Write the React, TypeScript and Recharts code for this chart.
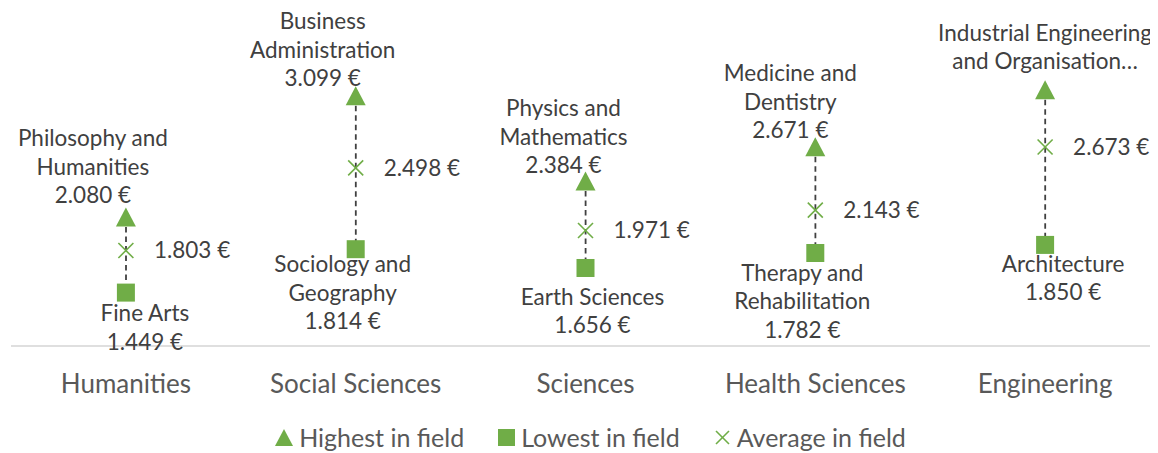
import { Bar, ComposedChart, LabelList, Legend, Line, XAxis, YAxis } from "recharts";

const fields = ["Humanities", "Social Sciences", "Sciences", "Health Sciences", "Engineering"];
const highest = [2080, 3099, 2384, 2671, 3150];
const lowest = [1449, 1814, 1656, 1782, 1850];
const average = [1803, 2498, 1971, 2143, 2673];
const highestNames = [
  ["Philosophy and", "Humanities"],
  ["Business", "Administration"],
  ["Physics and", "Mathematics"],
  ["Medicine and", "Dentistry"],
  ["Industrial Engineering", "and Organisation…"],
];
const lowestNames = [
  ["Fine Arts"],
  ["Sociology and", "Geography"],
  ["Earth Sciences"],
  ["Therapy and", "Rehabilitation"],
  ["Architecture"],
];
// the original label for engineering is cut off before its amount
const highestValueShown = [true, true, true, true, false];

// manual label nudges, as in the source chart: [dx, gap from marker]
const highNudge = [[-33, 22], [-33, 18], [-22, 16], [-25, 17], [0, 29]];
const lowNudge = [[19, 21], [-13, 15], [7, 29], [-13, 20], [18, 19]];

const GREEN = "#70AD47";
const TEXT = "#404040";
const MUTED = "#595959";
const FONT = "Lato, 'Open Sans', sans-serif";
const LINE_H = 28.5;

const data = fields.map((field, i) => ({
  field,
  high: highest[i],
  low: lowest[i],
  avg: average[i],
  range: [lowest[i], highest[i]],
}));

function euro(v: number) {
  return String(v).replace(/\B(?=(\d{3})+(?!\d))/g, ".") + " €";
}

function pos(props: any) {
  const vb = props.viewBox || {};
  return { x: Number(props.x ?? vb.x), y: Number(props.y ?? vb.y), i: Number(props.index) };
}

function HighLabel(props: any) {
  const { x, y, i } = pos(props);
  const lines = [...highestNames[i]];
  if (highestValueShown[i]) lines.push(euro(highest[i]));
  const [dx, gap] = highNudge[i];
  const n = lines.length;
  return (
    <g>
      {lines.map((t, k) => (
        <text
          key={k}
          x={x + dx}
          y={y - gap - (n - 1 - k) * LINE_H}
          dy="0.35em"
          textAnchor="middle"
          fill={TEXT}
          fontSize={22.5}
          fontFamily={FONT}
        >
          {t}
        </text>
      ))}
    </g>
  );
}

function LowLabel(props: any) {
  const { x, y, i } = pos(props);
  const lines = [...lowestNames[i], euro(lowest[i])];
  const [dx, gap] = lowNudge[i];
  return (
    <g>
      {lines.map((t, k) => (
        <text
          key={k}
          x={x + dx}
          y={y + gap + k * LINE_H}
          dy="0.35em"
          textAnchor="middle"
          fill={TEXT}
          fontSize={22.5}
          fontFamily={FONT}
        >
          {t}
        </text>
      ))}
    </g>
  );
}

function AvgLabel(props: any) {
  const { x, y, i } = pos(props);
  return (
    <text x={x + 28} y={y} dy="0.35em" fill={TEXT} fontSize={22.5} fontFamily={FONT}>
      {euro(average[i])}
    </text>
  );
}

function Triangle({ cx, cy }: any) {
  if (cx == null || cy == null) return null;
  return <path d={`M${cx},${cy - 10}L${cx + 10},${cy + 9}L${cx - 10},${cy + 9}Z`} fill={GREEN} />;
}

function Square({ cx, cy }: any) {
  if (cx == null || cy == null) return null;
  return <rect x={cx - 9} y={cy - 9} width={18} height={18} fill={GREEN} />;
}

function Cross({ cx, cy }: any) {
  if (cx == null || cy == null) return null;
  const s = 7.5;
  return (
    <g stroke={GREEN} strokeWidth={1.6}>
      <line x1={cx - s} y1={cy - s} x2={cx + s} y2={cy + s} />
      <line x1={cx - s} y1={cy + s} x2={cx + s} y2={cy - s} />
    </g>
  );
}

function DashedSpan({ x, y, width, height }: any) {
  const mx = x + width / 2;
  return (
    <line x1={mx} y1={y} x2={mx} y2={y + height} stroke="#404040" strokeWidth={1.8} strokeDasharray="5.5 4" />
  );
}

function LegendContent() {
  const items = [
    { name: "Highest in field", icon: <path d="M9,1L18,18L0,18Z" fill={GREEN} /> },
    { name: "Lowest in field", icon: <rect x={1} y={1} width={17} height={17} fill={GREEN} /> },
    {
      name: "Average in field",
      icon: (
        <g stroke={GREEN} strokeWidth={1.6}>
          <line x1={3} y1={3} x2={16} y2={16} />
          <line x1={3} y1={16} x2={16} y2={3} />
        </g>
      ),
    },
  ];
  return (
    <div style={{ display: "flex", justifyContent: "center", gap: 33, fontFamily: FONT, fontSize: 25, color: MUTED }}>
      {items.map((it) => (
        <div key={it.name} style={{ display: "flex", alignItems: "center", gap: 5 }}>
          <svg width={19} height={19}>{it.icon}</svg>
          <span>{it.name}</span>
        </div>
      ))}
    </div>
  );
}

function CategoryTick({ x, y, payload }: any) {
  return (
    <text x={x} y={y + 36} dy="0.35em" textAnchor="middle" fill={MUTED} fontSize={26} fontFamily={FONT}>
      {payload.value}
    </text>
  );
}

export default function App() {
  return (
    <div style={{ width: 1152, height: 445, background: "#fff" }}>
      <ComposedChart width={1152} height={445} data={data} margin={{ top: 5, right: 0, bottom: 47, left: 3 }}>
        <XAxis
          dataKey="field"
          axisLine={{ stroke: "#d4d4d4", strokeWidth: 1.5 }}
          tickLine={false}
          tickSize={0}
          height={60}
          tick={<CategoryTick />}
          interval={0}
        />
        <YAxis hide domain={[1000, 3800]} />
        <Legend
          verticalAlign="middle"
          layout="horizontal"
          wrapperStyle={{ top: 414, left: 0, width: 1165 }}
          content={<LegendContent />}
        />
        <Bar dataKey="range" barSize={4} shape={<DashedSpan />} isAnimationActive={false} legendType="none" />
        <Line dataKey="avg" stroke="none" dot={<Cross />} activeDot={false} isAnimationActive={false}>
          <LabelList dataKey="avg" content={<AvgLabel />} />
        </Line>
        <Line dataKey="high" stroke="none" dot={<Triangle />} activeDot={false} isAnimationActive={false}>
          <LabelList dataKey="high" content={<HighLabel />} />
        </Line>
        <Line dataKey="low" stroke="none" dot={<Square />} activeDot={false} isAnimationActive={false}>
          <LabelList dataKey="low" content={<LowLabel />} />
        </Line>
      </ComposedChart>
    </div>
  );
}
